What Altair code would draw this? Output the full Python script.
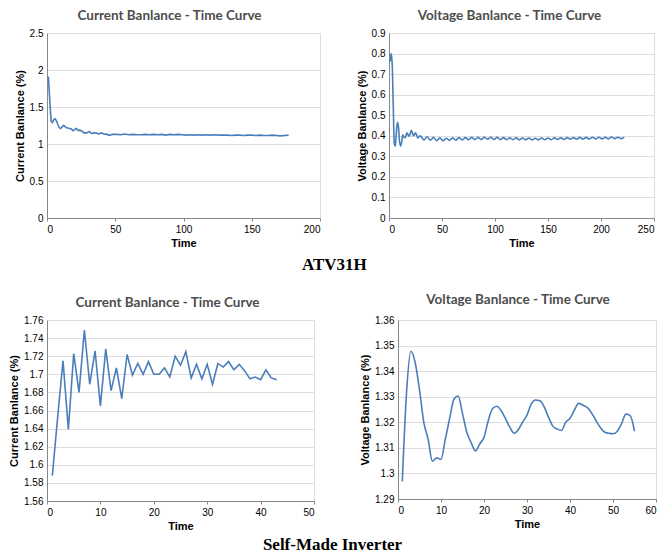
import altair as alt
import pandas as pd

# ---------------- data ----------------
# ATV31H - current balance
tl_time = [1, 2, 3, 4, 5, 6, 7, 8, 9, 10, 11, 12, 13, 14, 15, 16, 17, 18, 19, 20,
           21, 22, 23, 24, 25, 26, 27, 28, 29, 30, 31, 32, 33, 34, 35, 36, 37, 38, 39, 40,
           41, 42, 43, 44, 45, 46, 47, 48, 51, 54, 57, 60, 63, 66, 69, 72, 75, 78, 81, 84,
           87, 90, 93, 96, 99, 102, 105, 108, 111, 114, 117, 120, 123, 126, 129, 132, 135,
           138, 141, 144, 147, 150, 153, 156, 159, 162, 165, 168, 171, 174, 177]
tl_val = [1.91, 1.60, 1.31, 1.29, 1.33, 1.34, 1.31, 1.26, 1.22, 1.21, 1.23, 1.25, 1.24, 1.22, 1.22, 1.21,
          1.21, 1.20, 1.18, 1.19, 1.21, 1.20, 1.18, 1.19, 1.18, 1.17, 1.15, 1.15, 1.15, 1.16, 1.17, 1.15,
          1.14, 1.15, 1.15, 1.15, 1.14, 1.135, 1.145, 1.15, 1.14, 1.135, 1.13, 1.135, 1.12, 1.12, 1.125, 1.13,
          1.13, 1.125, 1.135, 1.125, 1.13, 1.125, 1.125, 1.13, 1.125, 1.13, 1.125, 1.13, 1.12, 1.13,
          1.125, 1.13, 1.125, 1.12, 1.125, 1.12, 1.125, 1.12, 1.125, 1.12, 1.125, 1.12, 1.12, 1.12,
          1.115, 1.12, 1.12, 1.115, 1.12, 1.12, 1.115, 1.12, 1.115, 1.115, 1.12, 1.115, 1.11, 1.115, 1.12]

# ATV31H - voltage balance
tr_time = [1, 2, 3, 4, 5, 6, 7, 8, 9, 10, 11, 12, 13, 14, 15, 16, 17, 18, 19, 20,
           21, 22, 23, 24, 25, 26, 27, 28, 29, 30, 33, 36, 39, 42, 45, 48, 51, 54, 57, 60,
           63, 66, 69, 72, 75, 78, 81, 84, 87, 90, 93, 96, 99, 102, 105, 108, 111, 114, 117, 120,
           123, 126, 129, 132, 135, 138, 141, 144, 147, 150, 153, 156, 159, 162, 165, 168, 171, 174,
           177, 180, 183, 186, 189, 192, 195, 198, 201, 204, 207, 210, 213, 216, 219, 222]
tr_val = [0.76, 0.80, 0.75, 0.55, 0.36, 0.35, 0.42, 0.465, 0.44, 0.37, 0.35, 0.37, 0.405, 0.395, 0.39, 0.40,
          0.414, 0.405, 0.398, 0.41, 0.427, 0.415, 0.40, 0.405, 0.414, 0.405, 0.39, 0.392, 0.40, 0.398,
          0.38, 0.395, 0.378, 0.392, 0.376, 0.39, 0.376, 0.388, 0.378, 0.39, 0.379, 0.391, 0.38, 0.391,
          0.381, 0.392, 0.382, 0.392, 0.382, 0.393, 0.383, 0.393, 0.382, 0.392, 0.382, 0.391, 0.381,
          0.39, 0.381, 0.39, 0.38, 0.389, 0.38, 0.389, 0.38, 0.388, 0.38, 0.389, 0.381, 0.389, 0.381,
          0.39, 0.382, 0.39, 0.382, 0.391, 0.383, 0.391, 0.383, 0.392, 0.384, 0.392, 0.384, 0.393,
          0.385, 0.393, 0.385, 0.393, 0.385, 0.394, 0.386, 0.393, 0.386, 0.392]

# Self-made inverter - current balance
bl_time = list(range(1, 44))
bl_val = [1.588, 1.653, 1.715, 1.639, 1.723, 1.680, 1.749, 1.689, 1.726, 1.665, 1.728, 1.682, 1.707,
          1.673, 1.722, 1.699, 1.712, 1.700, 1.714, 1.700, 1.700, 1.707, 1.697, 1.720, 1.710, 1.725,
          1.696, 1.711, 1.695, 1.711, 1.689, 1.712, 1.708, 1.714, 1.705, 1.711, 1.704, 1.695, 1.697,
          1.694, 1.705, 1.696, 1.694]

# Self-made inverter - voltage balance
br_time = list(range(1, 56))
br_val = [1.2969, 1.332, 1.3478, 1.3433, 1.3327, 1.320, 1.3134, 1.3048, 1.3061, 1.3055, 1.3134,
          1.3214, 1.329, 1.3303, 1.3234, 1.3161, 1.3121, 1.3088, 1.3115, 1.3141, 1.3207, 1.3254,
          1.3263, 1.3245, 1.3214, 1.3181, 1.3157, 1.3172, 1.3201, 1.3228, 1.3272, 1.3287, 1.3284,
          1.3260, 1.3220, 1.3185, 1.3174, 1.3168, 1.3200, 1.3216, 1.3247, 1.3274, 1.3267, 1.3258,
          1.3237, 1.3208, 1.3181, 1.3162, 1.3157, 1.3155, 1.3165, 1.3195, 1.3232, 1.3226, 1.3165]

# axis ticks
tl_xticks = [0, 50, 100, 150, 200]
tl_yticks = [0, 0.5, 1, 1.5, 2, 2.5]
tr_xticks = [0, 50, 100, 150, 200, 250]
tr_yticks = [0, 0.1, 0.2, 0.3, 0.4, 0.5, 0.6, 0.7, 0.8, 0.9]
bl_xticks = [0, 10, 20, 30, 40, 50]
bl_yticks = [1.56, 1.58, 1.6, 1.62, 1.64, 1.66, 1.68, 1.7, 1.72, 1.74, 1.76]
br_xticks = [0, 10, 20, 30, 40, 50, 60]
br_yticks = [1.29, 1.3, 1.31, 1.32, 1.33, 1.34, 1.35, 1.36]

FONT = "Lato"
LINE = "#4a7ebb"


def panel(times, vals, title, ytitle, xticks, yticks, w, h, toff, tdx, interp):
    df = pd.DataFrame({"t": times, "v": vals})
    return alt.Chart(df).mark_line(
        color=LINE, strokeWidth=1.6, interpolate=interp
    ).encode(
        x=alt.X("t:Q",
                scale=alt.Scale(domain=[xticks[0], xticks[-1]], nice=False, zero=False),
                axis=alt.Axis(values=xticks, title="Time", grid=False, format="~r",
                              tickSize=3, labelPadding=3, titlePadding=3)),
        y=alt.Y("v:Q",
                scale=alt.Scale(domain=[yticks[0], yticks[-1]], nice=False, zero=False),
                axis=alt.Axis(values=yticks, title=ytitle, grid=True, format="~r",
                              tickSize=0, labelPadding=4, titlePadding=4)),
    ).properties(
        width=w, height=h,
        title=alt.TitleParams(title, offset=toff, dx=tdx, fontSize=13.5, font=FONT,
                              fontWeight="bold", color="#4d4d4d", anchor="middle"),
    )


tl = panel(tl_time, tl_val, "Current Banlance - Time Curve", "Current Banlance (%)",
           tl_xticks, tl_yticks, 273, 185, 6, -14, "linear")
tr = panel(tr_time, tr_val, "Voltage Banlance - Time Curve", "Voltage Banlance (%)",
           tr_xticks, tr_yticks, 265, 185, 6, -12, "monotone")
bl = panel(bl_time, bl_val, "Current Banlance - Time Curve", "Current Banlance (%)",
           bl_xticks, bl_yticks, 267, 181, 6, -13, "linear")
br = panel(br_time, br_val, "Voltage Banlance - Time Curve", "Voltage Banlance (%)",
           br_xticks, br_yticks, 258, 179, 9, -9, "monotone")

cap = dict(orient="bottom", font="Liberation Serif", fontSize=17, fontWeight="bold",
           color="black", anchor="middle")

top = alt.hconcat(tl, tr, spacing=34).properties(
    title=alt.TitleParams("ATV31H", offset=8, **cap))
bottom = alt.hconcat(bl, br, spacing=44).properties(
    title=alt.TitleParams("Self-Made Inverter", offset=5, **cap))

chart = alt.vconcat(top, bottom, spacing=19).properties(
    padding={"left": 0, "top": 0, "right": 0, "bottom": 0}
).configure_view(strokeWidth=0).configure_axis(
    labelFont=FONT, labelFontSize=8, labelColor="#595959",
    titleFont=FONT, titleFontSize=9.5, titleFontWeight="bold", titleColor="#404040",
    domainColor="#bfbfbf", tickColor="#bfbfbf", gridColor="#d9d9d9", gridWidth=1,
).configure(background="white")

chart.save("out.html", embed_options={"renderer": "svg", "actions": False})
